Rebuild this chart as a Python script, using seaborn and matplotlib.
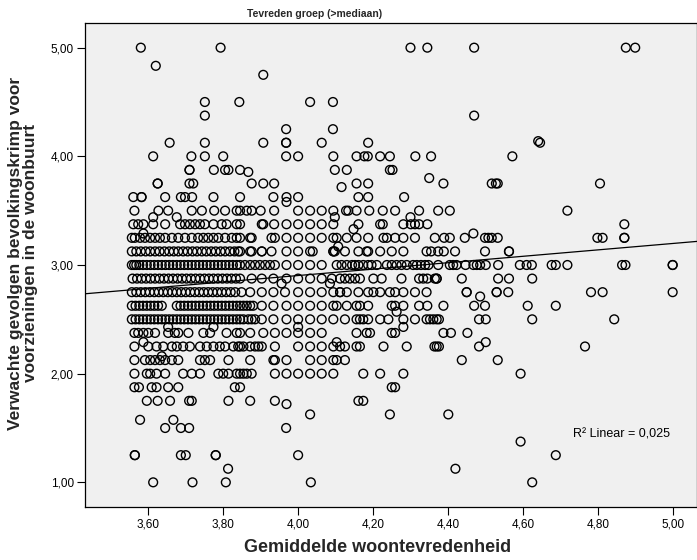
import matplotlib
matplotlib.use("Agg")
import matplotlib.pyplot as plt
import pandas as pd
import seaborn as sns
from matplotlib.ticker import FuncFormatter

# ---- data: x values (Gemiddelde woontevredenheid) grouped per y level ----
x_y500 = [3.580, 3.793, 4.300, 4.345, 4.470, 4.875, 4.900]
x_y483 = [3.620]
x_y475 = [3.907]
x_y450 = [3.751, 3.843, 4.032, 4.093]
x_y438 = [3.751, 4.470]
x_y425 = [3.968, 4.093]
x_y414 = [4.641]
x_y413 = [3.657, 3.751, 3.907, 3.968, 3.968, 4.063, 4.187, 4.646]
x_y400 = [3.613, 3.715, 3.751, 3.800, 3.968, 4.000, 4.094, 4.156, 4.177, 4.186,
          4.219, 4.245, 4.313, 4.355, 4.572]
x_y388 = [3.710, 3.710, 3.775, 3.805, 3.814, 3.845, 4.098, 4.130, 4.245, 4.252]
x_y386 = [3.867]
x_y380 = [4.350]
x_y375 = [3.625, 3.625, 3.710, 3.720, 3.876, 3.907, 3.936, 4.156, 4.187, 4.388,
          4.517, 4.528, 4.533, 4.806]
x_y372 = [4.116]
x_y363 = [3.560, 3.582, 3.582, 3.645, 3.687, 3.698, 3.717, 3.774, 3.845, 3.934,
          3.969, 4.000, 4.161, 4.187, 4.283]
x_y358 = [3.969]
x_y350 = [3.563, 3.627, 3.653, 3.716, 3.743, 3.776, 3.805, 3.836, 3.845, 3.863,
          3.876, 3.900, 3.936, 4.000, 4.032, 4.063, 4.094, 4.128, 4.134, 4.156,
          4.190, 4.226, 4.259, 4.323, 4.374, 4.405, 4.719]
x_y344 = [3.613, 3.676, 4.098, 4.300]
x_y338 = [3.560, 3.573, 3.587, 3.613, 3.645, 3.685, 3.698, 3.711, 3.725, 3.738,
          3.751, 3.774, 3.796, 3.809, 3.836, 3.845, 3.903, 3.907, 3.936, 3.969,
          4.000, 4.032, 4.063, 4.094, 4.161, 4.219, 4.226, 4.281, 4.301, 4.312,
          4.323, 4.345, 4.871]
x_y333 = [4.148]
x_y329 = [3.587, 4.468]
x_y325 = [3.556, 3.564, 3.578, 3.591, 3.605, 3.618, 3.631, 3.645, 3.663, 3.680,
          3.698, 3.716, 3.733, 3.747, 3.760, 3.774, 3.787, 3.805, 3.823, 3.836,
          3.845, 3.872, 3.876, 3.929, 3.938, 3.969, 4.000, 4.032, 4.063, 4.094,
          4.103, 4.130, 4.156, 4.187, 4.228, 4.237, 4.259, 4.281, 4.312, 4.365,
          4.390, 4.405, 4.445, 4.499, 4.508, 4.517, 4.533, 4.799, 4.813, 4.871,
          4.871]
x_y317 = [4.107]
x_y313 = [3.556, 3.568, 3.580, 3.593, 3.605, 3.618, 3.630, 3.643, 3.656, 3.668,
          3.680, 3.693, 3.705, 3.718, 3.730, 3.743, 3.755, 3.768, 3.780, 3.793,
          3.805, 3.818, 3.830, 3.840, 3.845, 3.872, 3.876, 3.903, 3.903, 3.929,
          3.969, 4.000, 4.032, 4.039, 4.094, 4.094, 4.098, 4.125, 4.161, 4.183,
          4.187, 4.219, 4.250, 4.281, 4.343, 4.355, 4.374, 4.389, 4.419, 4.499,
          4.563, 4.563]
x_y300 = [3.556, 3.562, 3.568, 3.576, 3.586, 3.596, 3.606, 3.616, 3.626, 3.636,
          3.646, 3.656, 3.666, 3.676, 3.686, 3.696, 3.706, 3.716, 3.726, 3.736,
          3.746, 3.756, 3.766, 3.776, 3.786, 3.796, 3.806, 3.816, 3.826, 3.836,
          3.845, 3.858, 3.872, 3.885, 3.898, 3.912, 3.925, 3.938, 3.969, 4.000,
          4.032, 4.063, 4.103, 4.116, 4.130, 4.144, 4.152, 4.161, 4.174, 4.187,
          4.196, 4.210, 4.237, 4.250, 4.263, 4.276, 4.290, 4.307, 4.317, 4.328,
          4.339, 4.348, 4.374, 4.405, 4.414, 4.423, 4.447, 4.468, 4.477, 4.486,
          4.501, 4.534, 4.592, 4.610, 4.624, 4.677, 4.688, 4.719, 4.865, 4.874,
          5.000, 5.000]
x_y288 = [3.558, 3.570, 3.582, 3.594, 3.606, 3.618, 3.630, 3.642, 3.654, 3.666,
          3.678, 3.690, 3.702, 3.714, 3.726, 3.738, 3.750, 3.762, 3.774, 3.786,
          3.798, 3.810, 3.822, 3.834, 3.845, 3.876, 3.903, 3.934, 3.969, 4.000,
          4.032, 4.063, 4.090, 4.112, 4.125, 4.138, 4.152, 4.165, 4.201, 4.223,
          4.276, 4.323, 4.334, 4.345, 4.365, 4.370, 4.370, 4.437, 4.534, 4.563,
          4.625]
x_y283 = [3.956, 4.085]
x_y275 = [3.556, 3.568, 3.580, 3.592, 3.604, 3.616, 3.628, 3.640, 3.652, 3.664,
          3.676, 3.688, 3.700, 3.712, 3.724, 3.736, 3.748, 3.760, 3.772, 3.784,
          3.796, 3.808, 3.820, 3.832, 3.849, 3.872, 3.903, 3.934, 3.965, 4.000,
          4.032, 4.063, 4.094, 4.112, 4.112, 4.130, 4.161, 4.187, 4.201, 4.219,
          4.245, 4.259, 4.281, 4.312, 4.343, 4.450, 4.450, 4.530, 4.530, 4.561,
          4.782, 4.813, 5.000]
x_y271 = [4.486]
x_y263 = [3.556, 3.566, 3.576, 3.586, 3.596, 3.606, 3.616, 3.626, 3.636, 3.676,
          3.686, 3.696, 3.706, 3.716, 3.726, 3.736, 3.746, 3.756, 3.766, 3.776,
          3.786, 3.796, 3.806, 3.816, 3.826, 3.836, 3.845, 3.854, 3.863, 3.872,
          3.880, 3.903, 3.934, 3.969, 4.000, 4.032, 4.063, 4.094, 4.103, 4.130,
          4.156, 4.165, 4.187, 4.250, 4.259, 4.281, 4.323, 4.345, 4.388, 4.470,
          4.499, 4.613, 4.688]
x_y257 = [4.263]
x_y250 = [3.556, 3.566, 3.576, 3.586, 3.596, 3.606, 3.616, 3.626, 3.636, 3.646,
          3.656, 3.666, 3.676, 3.686, 3.696, 3.706, 3.716, 3.726, 3.736, 3.746,
          3.756, 3.766, 3.776, 3.786, 3.796, 3.806, 3.816, 3.826, 3.836, 3.845,
          3.854, 3.867, 3.876, 3.885, 3.903, 3.934, 3.969, 4.000, 4.032, 4.063,
          4.094, 4.125, 4.156, 4.165, 4.174, 4.187, 4.219, 4.241, 4.281, 4.312,
          4.343, 4.352, 4.361, 4.370, 4.376, 4.483, 4.501, 4.625, 4.844]
x_y243 = [3.653, 3.774, 4.000, 4.281]
x_y238 = [3.563, 3.573, 3.587, 3.600, 3.618, 3.653, 3.671, 3.680, 3.707, 3.747,
          3.765, 3.809, 3.836, 3.845, 3.872, 3.907, 3.938, 3.969, 4.000, 4.032,
          4.063, 4.156, 4.183, 4.192, 4.250, 4.259, 4.388, 4.408, 4.452]
x_y229 = [3.587, 4.103, 4.501]
x_y225 = [3.563, 3.600, 3.622, 3.640, 3.663, 3.676, 3.693, 3.711, 3.738, 3.756,
          3.774, 3.791, 3.805, 3.827, 3.840, 3.845, 3.854, 3.872, 3.885, 3.894,
          3.903, 3.938, 4.000, 4.032, 4.063, 4.094, 4.112, 4.125, 4.156, 4.165,
          4.228, 4.290, 4.364, 4.370, 4.376, 4.483, 4.766]
x_y216 = [3.636]
x_y213 = [3.563, 3.591, 3.605, 3.618, 3.631, 3.645, 3.663, 3.680, 3.738, 3.751,
          3.765, 3.814, 3.872, 3.934, 3.938, 3.969, 4.032, 4.063, 4.094, 4.103,
          4.125, 4.437, 4.533]
x_y200 = [3.563, 3.596, 3.605, 3.622, 3.645, 3.693, 3.716, 3.738, 3.787, 3.800,
          3.814, 3.836, 3.845, 3.854, 3.863, 3.876, 3.938, 3.969, 4.000, 4.032,
          4.063, 4.094, 4.174, 4.219, 4.281, 4.594]
x_y188 = [3.563, 3.575, 3.609, 3.622, 3.653, 3.680, 3.831, 3.845, 4.250, 4.259]
x_y175 = [3.596, 3.625, 3.658, 3.709, 3.716, 3.814, 3.872, 3.938, 4.161, 4.174]
x_y172 = [3.969]
x_y163 = [4.032, 4.245, 4.401]
x_y158 = [3.578, 3.667]
x_y150 = [3.645, 3.687, 3.709, 3.968]
x_y138 = [4.594]
x_y125 = [3.564, 3.564, 3.687, 3.700, 3.780, 3.780, 4.000, 4.688]
x_y113 = [3.813, 4.420]
x_y100 = [3.613, 3.718, 3.807, 4.034, 4.625]

y_levels = [5.000, 4.833, 4.750, 4.500, 4.375, 4.250, 4.140, 4.125, 4.000,
            3.875, 3.856, 3.800, 3.750, 3.717, 3.625, 3.580, 3.500, 3.440,
            3.375, 3.330, 3.290, 3.250, 3.170, 3.125, 3.000, 2.875, 2.830,
            2.750, 2.710, 2.625, 2.570, 2.500, 2.430, 2.375, 2.290, 2.250,
            2.160, 2.125, 2.000, 1.875, 1.750, 1.720, 1.625, 1.575, 1.500,
            1.375, 1.250, 1.125, 1.000]
x_rows = [x_y500, x_y483, x_y475, x_y450, x_y438, x_y425, x_y414, x_y413, x_y400,
          x_y388, x_y386, x_y380, x_y375, x_y372, x_y363, x_y358, x_y350, x_y344,
          x_y338, x_y333, x_y329, x_y325, x_y317, x_y313, x_y300, x_y288, x_y283,
          x_y275, x_y271, x_y263, x_y257, x_y250, x_y243, x_y238, x_y229, x_y225,
          x_y216, x_y213, x_y200, x_y188, x_y175, x_y172, x_y163, x_y158, x_y150,
          x_y138, x_y125, x_y113, x_y100]

# fitted line and its R²
fit_intercept = 1.723
fit_slope = 0.295
r2_text = "R\u00b2 Linear = 0,025"

x_ticks = [3.6, 3.8, 4.0, 4.2, 4.4, 4.6, 4.8, 5.0]
y_ticks = [1.0, 2.0, 3.0, 4.0, 5.0]

title = "Tevreden groep (>mediaan)"
x_label = "Gemiddelde woontevredenheid"
y_label = "Verwachte gevolgen bevolkingskrimp voor\nvoorzieningen in de woonbuurt"

# ---- build table ----
xs, ys = [], []
for yv, row in zip(y_levels, x_rows):
    xs.extend(row)
    ys.extend([yv] * len(row))
df = pd.DataFrame({"x": xs, "y": ys})

sns.set_theme(style="white")
plt.rcParams["font.family"] = ["Liberation Sans", "DejaVu Sans"]

W, H = 697, 560
fig = plt.figure(figsize=(W / 100, H / 100), dpi=100)
fig.patch.set_facecolor("white")
ax = fig.add_axes([85 / W, 1 - 507 / H, (697 - 85) / W, (507 - 23) / H])
ax.set_facecolor("#f0f0f0")

sns.scatterplot(data=df, x="x", y="y", ax=ax, marker="o", s=40,
                linewidth=1.0, legend=False)
coll = ax.collections[-1]
coll.set_facecolor("none")
coll.set_edgecolor("black")

ax.axline((0, fit_intercept), slope=fit_slope, color="black", lw=0.9)

ax.set_xlim(3.431, 5.065)
ax.set_ylim(0.773, 5.227)
ax.set_xticks(x_ticks)
ax.set_yticks(y_ticks)
fmt = FuncFormatter(lambda v, p: f"{v:.2f}".replace(".", ","))
ax.xaxis.set_major_formatter(fmt)
ax.yaxis.set_major_formatter(fmt)
ax.tick_params(axis="both", direction="out", length=6, width=0.8,
               color="black", labelsize=8.5, labelcolor="black", pad=2,
               bottom=True, left=True)
for sp in ax.spines.values():
    sp.set_color("black")
    sp.set_linewidth(0.9)
ax.set_xlabel("")
ax.set_ylabel("")

ax.text(4.734, 1.436, r2_text, fontsize=9, ha="left", va="center", color="black")

fig.text(315 / W, 1 - 14 / H, title, fontsize=7.5, fontweight="bold",
         ha="center", va="center")
fig.text(378 / W, 1 - 548 / H, x_label, fontsize=13, fontweight="bold",
         ha="center", va="center")
fig.text(23 / W, 1 - 253 / H, y_label, fontsize=12.5, fontweight="bold",
         ha="center", va="center", rotation=90, linespacing=1.05,
         multialignment="center")

fig.savefig("out.png", dpi=100, facecolor="white")
